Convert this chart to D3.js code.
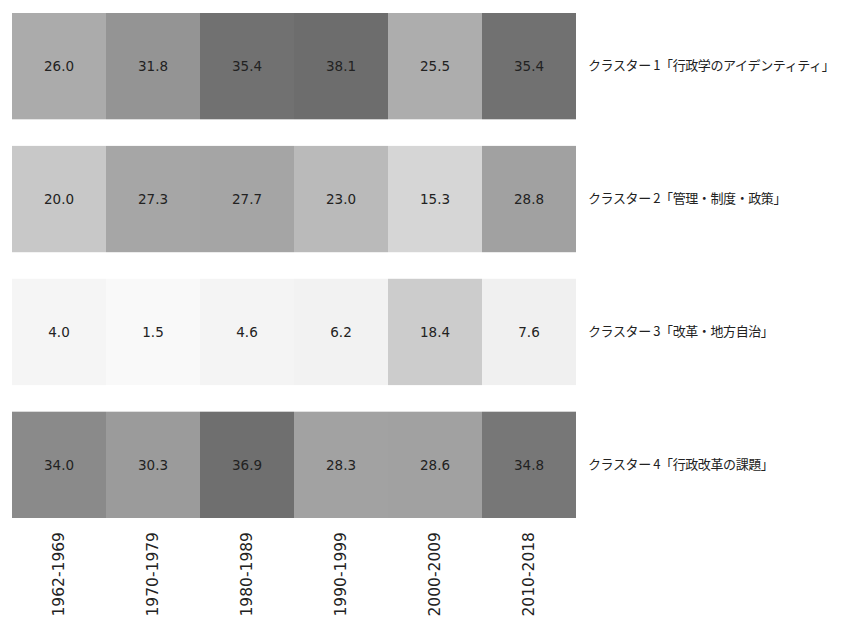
<!DOCTYPE html>
<html><head><meta charset="utf-8">
<script src="https://cdn.jsdelivr.net/npm/d3@7"></script>
<style>body{margin:0;background:#fff;} svg{display:block;}</style>
</head><body>
<script>
const periods = ["1962-1969","1970-1979","1980-1989","1990-1999","2000-2009","2010-2018"];
const clusters = ["クラスター\u00a01「行政学のアイデンティティ」","クラスター\u00a02「管理・制度・政策」","クラスター\u00a03「改革・地方自治」","クラスター\u00a04「行政改革の課題」"];
const cluster1 = [26.0,31.8,35.4,38.1,25.5,35.4];
const cluster2 = [20.0,27.3,27.7,23.0,15.3,28.8];
const cluster3 = [4.0,1.5,4.6,6.2,18.4,7.6];
const cluster4 = [34.0,30.3,36.9,28.3,28.6,34.8];
const values = [cluster1,cluster2,cluster3,cluster4];

const W=851,H=628;
const svg=d3.select("body").append("svg").attr("width",W).attr("height",H);
const x=d3.scaleBand().domain(periods).range([12,576]).padding(0);
const y=d3.scaleBand().domain(clusters).range([13,518]).paddingInner(0.2).paddingOuter(0);
const color=d3.scaleLinear().domain([0,8,18,20,26,30,34,35,40])
  .range(["#fbfbfb","#efefef","#cdcdcd","#c8c8c8","#ababab","#9c9c9c","#8a8a8a","#727272","#6a6a6a"]);

const cells=[];
clusters.forEach((c,i)=>periods.forEach((p,j)=>cells.push({c,p,v:values[i][j]})));

svg.selectAll("rect.cell").data(cells).join("rect").attr("class","cell")
 .attr("x",d=>x(d.p)).attr("y",d=>y(d.c)).attr("width",x.bandwidth()).attr("height",y.bandwidth())
 .attr("fill",d=>color(d.v));

svg.selectAll("text.val").data(cells).join("text").attr("class","val")
 .attr("x",d=>x(d.p)+x.bandwidth()/2).attr("y",d=>y(d.c)+y.bandwidth()/2)
 .attr("text-anchor","middle").attr("dominant-baseline","central")
 .attr("font-family","DejaVu Sans, Verdana, sans-serif").attr("font-size",13.5).attr("fill","#222")
 .text(d=>d.v.toFixed(1));

const yAxis=d3.axisRight(y).tickSize(0).tickPadding(12);
const ga=svg.append("g").attr("transform","translate(576,0)").call(yAxis);
ga.select(".domain").remove();
ga.selectAll("text").attr("font-family","'Noto Sans CJK JP', sans-serif").attr("font-size",13).attr("fill","#222")
  .attr("letter-spacing",-0.4);

const xAxis=d3.axisBottom(x).tickSize(0).tickPadding(0);
const gx=svg.append("g").attr("transform","translate(0,518)").call(xAxis);
gx.select(".domain").remove();
gx.selectAll("text").attr("font-family","DejaVu Sans, Verdana, sans-serif").attr("font-size",15.5).attr("fill","#222")
 .attr("transform","rotate(-90)").attr("text-anchor","end").attr("dy","0.35em").attr("x",-14).attr("y",0);
</script>
</body></html>
